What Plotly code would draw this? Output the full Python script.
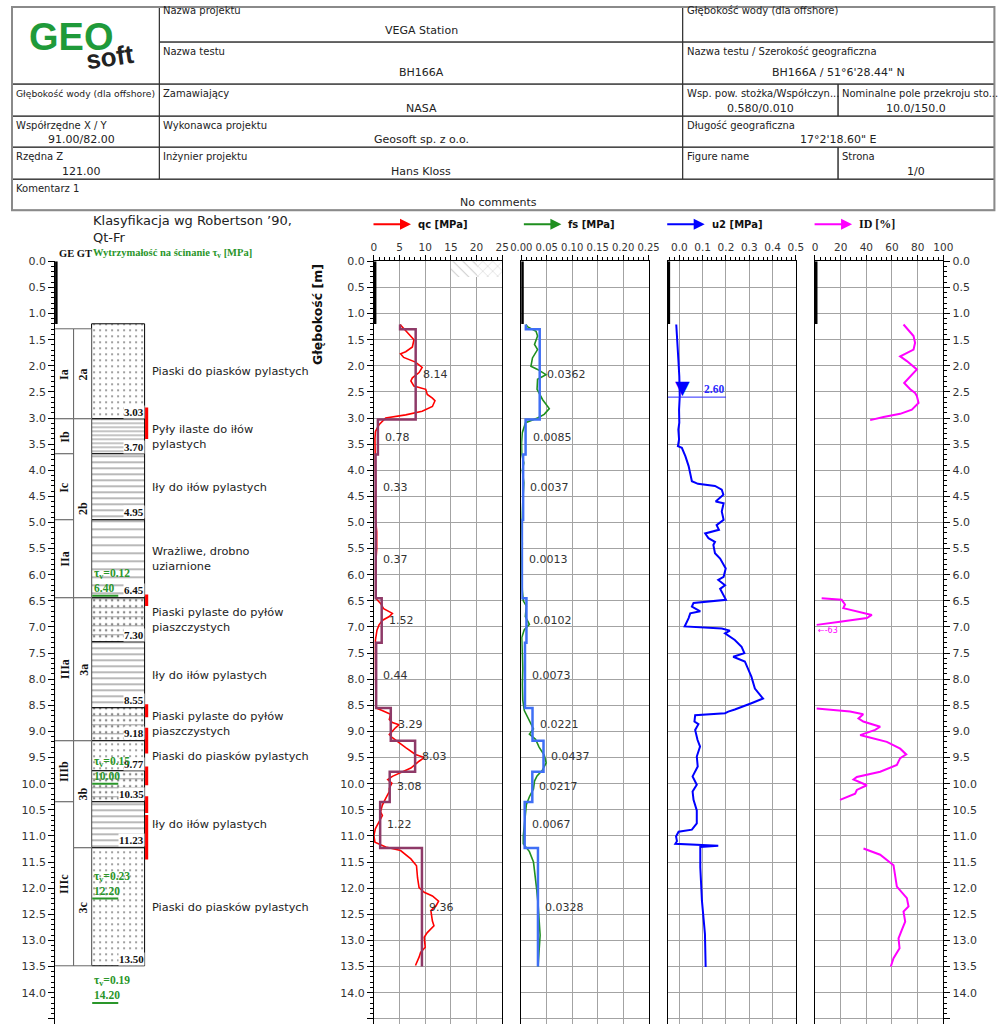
import plotly.graph_objects as go

W, H = 1001, 1024
# where the page lands in the snapshot (measured from earlier renders)
OX, OY, SX, SY = 13, 7, 0.9756, 0.993


def px(x):
    return (x - OX) / (SX * W)


def py(y):
    return 1 - (y - OY) / (SY * H)


# ---------------- layers (Robertson '90 classification) ----------------
layer_top = [1.20, 3.03, 3.70, 4.95, 6.45, 7.30, 8.55, 9.18, 9.77, 10.35, 11.23]
layer_bottom = [3.03, 3.70, 4.95, 6.45, 7.30, 8.55, 9.18, 9.77, 10.35, 11.23, 13.50]
layer_soil = ["sand", "silt", "clay", "sensitive", "sandsilt", "clay",
              "sandsilt", "sand", "sandsilt", "clay", "sand"]
layer_desc = [
    "Piaski do piasków pylastych",
    "Pyły ilaste do iłów<br>pylastych",
    "Iły do iłów pylastych",
    "Wrażliwe, drobno<br>uziarnione",
    "Piaski pylaste do pyłów<br>piaszczystych",
    "Iły do iłów pylastych",
    "Piaski pylaste do pyłów<br>piaszczystych",
    "Piaski do piasków pylastych",
    "",
    "Iły do iłów pylastych",
    "Piaski do piasków pylastych",
]
qc_avg = [8.14, 0.78, 0.33, 0.37, 1.52, 0.44, 3.29, 8.03, 3.08, 1.22, 9.36]
fs_avg = [0.0362, 0.0085, 0.0037, 0.0013, 0.0102, 0.0073, 0.0221, 0.0437, 0.0217, 0.0067, 0.0328]
step_start = 1.30
predrill = 1.20
water_level = 2.60

ge_names = ["Ia", "Ib", "Ic", "IIa", "IIIa", "IIIb", "IIIc"]
ge_top = [1.30, 3.03, 3.70, 4.95, 6.45, 9.18, 10.35]
ge_bottom = [3.03, 3.70, 4.95, 6.45, 9.18, 10.35, 13.50]
gt_names = ["2a", "2b", "3a", "3b", "3c"]
gt_top = [1.30, 3.03, 6.45, 9.18, 11.23]
gt_bottom = [3.03, 6.45, 9.18, 11.23, 13.50]

tau_v = [0.12, 0.15, 0.23, 0.19]
tau_depth = [6.40, 10.00, 12.20, 14.20]

flag_top = [2.80, 6.38, 8.48, 8.93, 9.67, 10.24, 10.60]
flag_bottom = [3.40, 6.60, 8.73, 9.42, 10.03, 10.56, 11.45]

# ---------------- CPT measurements ----------------
qc_depth = [1.21, 1.25, 1.30, 1.43, 1.50, 1.64, 1.73, 1.77, 1.84, 1.93, 2.03, 2.13, 2.23, 2.29,
            2.39, 2.45, 2.55, 2.62, 2.67, 2.78, 2.87, 2.94, 2.97, 3.00, 3.13, 3.26, 3.40, 3.60,
            3.80, 4.00, 4.30, 4.60, 4.90, 5.18, 5.30, 5.50, 5.80, 6.10, 6.40, 6.45, 6.55, 6.65,
            6.74, 6.80, 6.87, 6.96, 7.06, 7.25, 7.50, 7.80, 8.10, 8.40, 8.55, 8.60, 8.67, 8.77,
            8.83, 8.87, 8.93, 9.06, 9.12, 9.31, 9.44, 9.50, 9.57, 9.70, 9.80, 9.86, 9.92, 9.99,
            10.09, 10.15, 10.28, 10.41, 10.54, 10.61, 10.73, 10.86, 10.99, 11.12, 11.21, 11.28,
            11.44, 11.57, 11.80, 11.99, 12.08, 12.15, 12.25, 12.34, 12.43, 12.63, 12.72, 12.85,
            12.94, 13.13, 13.23, 13.32, 13.48]
qc = [5.1, 5.5, 6.0, 7.2, 7.8, 7.5, 6.2, 5.2, 5.8, 8.1, 9.4, 8.8, 7.5, 7.2,
      7.8, 10.1, 10.4, 11.4, 11.9, 11.4, 9.4, 6.2, 4.55, 2.3, 1.0, 0.3, 0.2, 0.25,
      0.3, 0.3, 0.35, 0.3, 0.3, 0.55, 0.6, 0.55, 0.35, 0.3, 0.3, 0.35, 1.3, 1.9,
      3.6, 3.0, 1.7, 1.0, 0.6, 0.3, 0.3, 0.35, 0.3, 0.35, 0.4, 1.6, 3.25, 3.0,
      3.6, 4.9, 4.2, 3.0, 3.6, 6.2, 8.1, 9.8, 8.8, 7.2, 4.9, 3.6, 2.7, 3.5,
      3.0, 3.0, 2.3, 1.65, 1.3, 1.65, 1.0, 0.3, 0.0, 0.2, 2.3, 5.2,
      7.2, 8.3, 8.5, 8.8, 9.8, 11.4, 12.6, 12.1, 11.1, 11.4, 11.7, 10.4,
      9.8, 10.0, 9.1, 8.8, 8.1]

fs_depth = [1.21, 1.25, 1.34, 1.43, 1.59, 1.69, 1.85, 2.01, 2.07, 2.17, 2.26, 2.45, 2.65, 2.82,
            2.93, 3.00, 3.09, 3.28, 3.48, 3.70, 3.86, 4.00, 4.24, 4.50, 4.80, 5.10, 5.40, 5.70,
            6.00, 6.30, 6.50, 6.60, 6.80, 6.95, 7.05, 7.20, 7.50, 7.80, 8.10, 8.40, 8.60, 8.80,
            8.95, 9.05, 9.15, 9.30, 9.45, 9.60, 9.75, 9.85, 9.95, 10.10, 10.25, 10.40, 10.60,
            10.80, 11.00, 11.15, 11.30, 11.50, 11.80, 12.00, 12.30, 12.60, 12.90, 13.20, 13.50]
fs = [0.009, 0.012, 0.029, 0.032, 0.026, 0.032, 0.022, 0.019, 0.032, 0.0486, 0.032, 0.031, 0.042,
      0.055, 0.045, 0.032, 0.0085, 0.002, 0.0005, 0.001, 0.005, 0.002, 0.005, 0.003, 0.002, 0.001,
      0.002, 0.001, 0.001, 0.002, 0.004, 0.010, 0.008, 0.016, 0.006, 0.001, 0.002, 0.003, 0.002,
      0.003, 0.006, 0.016, 0.024, 0.016, 0.028, 0.035, 0.045, 0.049, 0.041, 0.031, 0.026, 0.024,
      0.016, 0.010, 0.008, 0.006, 0.004, 0.004, 0.016, 0.024, 0.028, 0.030, 0.033, 0.035, 0.037,
      0.035, 0.033]

u2_depth = [1.21, 1.56, 1.88, 2.20, 2.58, 2.84, 3.09, 3.22, 3.41, 3.54, 3.57, 3.73, 3.92, 4.21,
            4.26, 4.30, 4.37, 4.47, 4.60, 4.63, 4.79, 4.95, 5.05, 5.14, 5.21, 5.30, 5.37, 5.43,
            5.59, 5.69, 5.88, 6.04, 6.10, 6.20, 6.27, 6.48, 6.54, 6.61, 6.70, 6.74, 6.83, 6.99,
            7.03, 7.07, 7.12, 7.25, 7.38, 7.50, 7.57, 7.66, 7.95, 8.18, 8.37, 8.46, 8.54, 8.58,
            8.62, 8.65, 8.69, 8.81, 8.86, 8.97, 9.16, 9.29, 9.48, 9.67, 9.86, 10.02, 10.15, 10.31,
            10.51, 10.76, 10.88, 10.92, 11.01, 11.10, 11.15, 11.18, 11.19, 11.21, 11.60, 12.24,
            12.88, 13.51]
u2 = [-0.013, -0.007, -0.004, 0.0, 0.002, -0.001, 0.0, -0.004, -0.001, -0.006, 0.011, 0.026, 0.040,
      0.054, 0.080, 0.153, 0.182, 0.189, 0.156, 0.190, 0.182, 0.190, 0.160, 0.170, 0.111, 0.125,
      0.153, 0.146, 0.153, 0.175, 0.199, 0.190, 0.167, 0.196, 0.175, 0.200, 0.061, 0.054, 0.090,
      0.047, 0.040, 0.023, 0.182, 0.217, 0.196, 0.238, 0.267, 0.279, 0.231, 0.281, 0.309, 0.324,
      0.359, 0.309, 0.267, 0.238, 0.210, 0.196, 0.068, 0.065, 0.082, 0.068, 0.078, 0.089, 0.075,
      0.079, 0.057, 0.075, 0.057, 0.061, 0.075, 0.075, 0.054, -0.003, -0.014, -0.010, -0.017,
      0.089, 0.167, 0.090, 0.090, 0.097, 0.110, 0.113]

id_depth = [1.21, 1.43, 1.56, 1.69, 1.82, 1.91, 2.07, 2.20, 2.33, 2.45, 2.52, 2.58, 2.71, 2.84,
            2.92, 2.98, 3.04, None,
            6.45, 6.48, 6.57, 6.64, 6.77, 6.83, 6.90, 6.96, None,
            8.56, 8.62, 8.67, 8.75, 8.81, 8.91, 8.97, 9.07, 9.10, 9.20, 9.33, 9.44, 9.51, 9.64,
            9.77, 9.87, 9.92, 10.03, 10.12, 10.19, 10.31, None,
            11.24, 11.36, 11.56, 11.78, 11.97, 12.19, 12.35, 12.45, 12.64, 12.80, 12.96, 13.15,
            13.34, 13.50]
id_pct = [69.0, 76.8, 78.0, 76.8, 66.4, 71.6, 79.4, 74.2, 69.5, 74.2, 78.0, 79.4, 80.7, 75.5,
          66.4, 53.4, 43.0, None,
          5.2, 20.8, 23.4, 22.1, 44.3, 40.4, 19.5, 1.3, None,
          1.3, 27.3, 37.6, 33.9, 37.6, 50.8, 46.9, 35.2, 40.4, 56.0, 66.4, 71.1, 66.4, 63.8,
          50.8, 32.6, 30.0, 40.4, 32.6, 31.3, 19.5, None,
          37.8, 50.8, 61.2, 62.5, 63.8, 71.6, 72.9, 69.0, 70.3, 67.7, 65.1, 65.9,
          61.2, 59.1]

# ---------------- header table ----------------
header_cells = [
    (161, 683, 2, 43, "Nazwa projektu", "VEGA Station"),
    (683, 994, 2, 43, "Głębokość wody (dla offshore)", ""),
    (161, 683, 43, 85, "Nazwa testu", "BH166A"),
    (683, 994, 43, 85, "Nazwa testu / Szerokość geograficzna", "BH166A / 51°6'28.44\" N"),
    (5, 161, 85, 117, "Głębokość wody (dla offshore)", ""),
    (161, 683, 85, 117, "Zamawiający", "NASA"),
    (683, 838, 85, 117, "Wsp. pow. stożka/Współczyn...", "0.580/0.010"),
    (838, 994, 85, 117, "Nominalne pole przekroju sto...", "10.0/150.0"),
    (5, 161, 117, 148, "Współrzędne X / Y", "91.00/82.00"),
    (161, 683, 117, 148, "Wykonawca projektu", "Geosoft sp. z o.o."),
    (683, 994, 117, 148, "Długość geograficzna", "17°2'18.60\" E"),
    (5, 161, 148, 180, "Rzędna Z", "121.00"),
    (161, 683, 148, 180, "Inżynier projektu", "Hans Kloss"),
    (683, 838, 148, 180, "Figure name", ""),
    (838, 994, 148, 180, "Strona", "1/0"),
    (5, 994, 180, 211, "Komentarz 1", "No comments"),
]

pattern_shape = {"sand": ".", "silt": "-", "clay": "-", "sensitive": "-", "sandsilt": "."}
pattern_size = {"sand": 6, "silt": 4, "clay": 6, "sensitive": 8, "sandsilt": 6}
pattern_solid = {"sand": 0.1, "silt": 0.25, "clay": 0.2, "sensitive": 0.15, "sandsilt": 0.14}

SANS = "DejaVu Sans"
SERIF = "Liberation Serif"
GREEN = "#2a962a"
GRID = "#a3a3a3"

fig = go.Figure()
ann = []

# ---- lithology column
n = len(layer_top)
thick = [b - t for t, b in zip(layer_top, layer_bottom)]
fig.add_trace(go.Bar(
    x=[63.5] * n, y=thick, base=layer_top, width=53,
    marker=dict(color="#111", line=dict(color="black", width=1),
                pattern=dict(shape=[pattern_shape[s] for s in layer_soil],
                             size=[pattern_size[s] for s in layer_soil],
                             solidity=[pattern_solid[s] for s in layer_soil],
                             fgcolor="#111", bgcolor="white")),
    xaxis="x", yaxis="y", hoverinfo="skip", showlegend=False))
mix = [i for i, s in enumerate(layer_soil) if s == "sandsilt"]
fig.add_trace(go.Bar(
    x=[63.5] * len(mix), y=[thick[i] for i in mix], base=[layer_top[i] for i in mix], width=53,
    marker=dict(color="rgba(0,0,0,0)", line=dict(width=0),
                pattern=dict(shape="-", size=9, solidity=0.12, fgcolor="#444",
                             bgcolor="rgba(0,0,0,0)")),
    xaxis="x", yaxis="y", hoverinfo="skip", showlegend=False))

for names, tops, bots, xc, wd in [(ge_names, ge_top, ge_bottom, 9.5, 19),
                                  (gt_names, gt_top, gt_bottom, 28, 18)]:
    fig.add_trace(go.Bar(
        x=[xc] * len(names), y=[b - t for t, b in zip(tops, bots)], base=tops, width=wd,
        marker=dict(color="white", line=dict(color="#666", width=1)),
        xaxis="x", yaxis="y", hoverinfo="skip", showlegend=False))
    for nm, t, b in zip(names, tops, bots):
        ann.append(dict(x=xc, y=(t + b) / 2, xref="x", yref="y", text=f"<b>{nm}</b>",
                        textangle=-90, showarrow=False, xanchor="center", yanchor="middle",
                        font=dict(family=SERIF, size=12, color="#111")))

fx, fy = [], []
for t, b in zip(flag_top, flag_bottom):
    fx += [91.5, 91.5, None]
    fy += [t, b, None]
fig.add_trace(go.Scatter(x=fx, y=fy, mode="lines", line=dict(color="red", width=3.5),
                         xaxis="x", yaxis="y", hoverinfo="skip", showlegend=False))

# predrilled section (thick black line on each panel edge)
for xa, x0 in [("x", 0), ("x2", 0), ("x3", 0), ("x4", -0.05), ("x5", 0)]:
    fig.add_trace(go.Scatter(x=[x0, x0], y=[0, predrill], mode="lines",
                             line=dict(color="black", width=5),
                             xaxis=xa, yaxis=xa.replace("x", "y"), hoverinfo="skip",
                             showlegend=False))

# ---- qc panel
fig.add_trace(go.Bar(x=[17.5, 22.5], y=[0.3, 0.3], base=[0, 0], width=5,
                     marker=dict(color="#9a9a9a", line=dict(width=0),
                                 pattern=dict(shape=["\\", "x"], size=7, solidity=0.15,
                                              fgcolor="#9a9a9a", bgcolor="white")),
                     xaxis="x2", yaxis="y2", hoverinfo="skip", showlegend=False))


def step_line(vals, first):
    xs, ys = [first, first], [qc_depth[0], step_start]
    for i, v in enumerate(vals):
        top = step_start if i == 0 else layer_top[i]
        xs += [v, v]
        ys += [top, layer_bottom[i]]
    return xs, ys


fig.add_trace(go.Scatter(x=qc, y=qc_depth, mode="lines", line=dict(color="#ff0000", width=1.6),
                         xaxis="x2", yaxis="y2", showlegend=False))
sx, sy = step_line(qc_avg, qc[0])
fig.add_trace(go.Scatter(x=sx, y=sy, mode="lines", line=dict(color="#8e3a68", width=2.5),
                         xaxis="x2", yaxis="y2", showlegend=False))

# ---- fs panel
fig.add_trace(go.Scatter(x=fs, y=fs_depth, mode="lines", line=dict(color="#1f8f1f", width=1.6),
                         xaxis="x3", yaxis="y3", showlegend=False))
sx, sy = step_line(fs_avg, fs[0])
fig.add_trace(go.Scatter(x=sx, y=sy, mode="lines", line=dict(color="#3f6ff5", width=2.5),
                         xaxis="x3", yaxis="y3", showlegend=False))

# ---- u2 panel
fig.add_trace(go.Scatter(x=u2, y=u2_depth, mode="lines", line=dict(color="#0000ff", width=2),
                         xaxis="x4", yaxis="y4", showlegend=False))

# ---- ID panel
fig.add_trace(go.Scatter(x=id_pct, y=id_depth, mode="lines", line=dict(color="#ff00ff", width=2),
                         connectgaps=False, xaxis="x5", yaxis="y5", showlegend=False))

# ---------------- annotations ----------------
for i in range(n):
    top = step_start if i == 0 else layer_top[i]
    mid = (top + layer_bottom[i]) / 2
    ann.append(dict(x=qc_avg[i], y=mid, xref="x2", yref="y2", text=f"{qc_avg[i]:.2f}",
                    xanchor="left", yanchor="middle", xshift=5, showarrow=False,
                    font=dict(family=SANS, size=11, color="#333")))
    ann.append(dict(x=fs_avg[i], y=mid, xref="x3", yref="y3", text=f"{fs_avg[i]:.4f}",
                    xanchor="left", yanchor="middle", xshift=5, showarrow=False,
                    font=dict(family=SANS, size=11, color="#333")))
    if layer_desc[i]:
        ann.append(dict(x=px(152), y=(layer_top[i] + layer_bottom[i]) / 2, xref="paper", yref="y",
                        text=layer_desc[i], xanchor="left", yanchor="middle", align="left",
                        showarrow=False, font=dict(family=SANS, size=11.3, color="#222")))
    ann.append(dict(x=89.5, y=layer_bottom[i], xref="x", yref="y",
                    text=f"<b>{layer_bottom[i]:.2f}</b>", xanchor="right", yanchor="bottom",
                    yshift=1, showarrow=False, borderpad=0, bgcolor="white",
                    font=dict(family=SERIF, size=11, color="#111")))

for t, d in zip(tau_v, tau_depth):
    ann.append(dict(x=37, y=d, xref="x", yref="y",
                    text="<b>τ<sub>v</sub>=%.2f<br>%.2f</b>" % (t, d),
                    xanchor="left", yanchor="bottom", align="left", showarrow=False,
                    font=dict(family=SERIF, size=11.5, color=GREEN)))

# water level
ann.append(dict(x=0.012, y=water_level, xref="x4", yref="y4", text="▼", xanchor="center",
                yanchor="bottom", yshift=-3, showarrow=False,
                font=dict(family=SANS, size=19, color="#0000ff")))
ann.append(dict(x=0.2, y=water_level, xref="x4", yref="y4", text=f"<b>{water_level:.2f}</b>",
                xanchor="right", yanchor="bottom", showarrow=False,
                font=dict(family=SERIF, size=11.5, color="#2a2aff")))
ann.append(dict(x=0, y=7.07, xref="x5", yref="y5", text="←-63", xanchor="left",
                yanchor="middle", xshift=1, showarrow=False,
                font=dict(family=SANS, size=8, color="#ff00ff")))

# panel legends (arrow + label)
for head, color, label, fam in [(412, "#ff0000", "qc [MPa]", SANS), (562, "#1f8f1f", "fs [MPa]", SANS),
                                (705, "#0000ff", "u2 [MPa]", SANS), (852, "#ff00ff", "ID [%]", SERIF)]:
    ann.append(dict(x=px(head), y=py(225), xref="paper", yref="paper", text="", showarrow=True,
                    ax=-39, ay=0, axref="pixel", ayref="pixel", arrowhead=2, arrowsize=1.1,
                    arrowwidth=2, arrowcolor=color, standoff=0))
    ann.append(dict(x=px(head + 5), y=py(225), xref="paper", yref="paper", text=f"<b>{label}</b>",
                    xanchor="left", yanchor="middle", showarrow=False,
                    font=dict(family=fam, size=10 if fam == SANS else 12, color="#111")))

ann.append(dict(x=px(93), y=py(212), xref="paper", yref="paper",
                text="Klasyfikacja wg Robertson ’90,<br>Qt-Fr", xanchor="left", yanchor="top",
                align="left", showarrow=False, font=dict(family=SANS, size=13, color="#222")))
ann.append(dict(x=px(59), y=py(254), xref="paper", yref="paper", text="<b>GE GT</b>",
                xanchor="left", yanchor="middle", showarrow=False,
                font=dict(family=SERIF, size=10.5, color="#111")))
ann.append(dict(x=px(93), y=py(254), xref="paper", yref="paper",
                text="<b>Wytrzymałość na ścinanie τ<sub>v</sub> [MPa]</b>",
                xanchor="left", yanchor="middle", showarrow=False,
                font=dict(family=SERIF, size=10.5, color=GREEN)))
ann.append(dict(x=px(319), y=py(315), xref="paper", yref="paper", text="<b>Głębokość [m]</b>",
                textangle=-90, xanchor="center", yanchor="middle", showarrow=False,
                font=dict(family=SANS, size=12.5, color="#111")))

# header table texts
edge_l, edge_t = OX + 1, OY + 1
for x0, x1, y0, y1, label, value in header_cells:
    lx = max(x0, edge_l) + 2
    tight = x0 < edge_l and len(label) * 6 > (x1 - lx)
    ann.append(dict(x=px(lx), y=py(y0 + 2), xref="paper", yref="paper", text=label,
                    xanchor="left", yanchor="top", showarrow=False,
                    font=dict(family=SANS, size=9.2 if tight else 10, color="#222")))
    if value:
        vy = y1 - 12 if (y1 - y0) > 36 else y1 - 7.5
        ann.append(dict(x=px((x0 + x1) / 2), y=py(vy), xref="paper", yref="paper", text=value,
                        xanchor="center", yanchor="middle", showarrow=False,
                        font=dict(family=SANS, size=11, color="#222")))
# logo
ann.append(dict(x=px(73), y=py(38), xref="paper", yref="paper", text="<b>GEO</b>",
                xanchor="center", yanchor="middle", showarrow=False,
                font=dict(family="Liberation Sans", size=38, color="#1f9a3a")))
ann.append(dict(x=px(112), y=py(58), xref="paper", yref="paper", text="<b>soft</b>",
                xanchor="center", yanchor="middle", showarrow=False, textangle=-8,
                font=dict(family="Liberation Sans", size=26, color="#222")))

# ---------------- shapes ----------------
shapes = []
for x0, x1, y0, y1, _, _ in header_cells + [(5, 161, 2, 85, "", "")]:
    shapes.append(dict(type="rect", xref="paper", yref="paper", x0=px(max(x0, edge_l)), x1=px(x1),
                       y0=py(y1), y1=py(max(y0, edge_t)), line=dict(color="#333", width=1)))
shapes.append(dict(type="rect", xref="paper", yref="paper", x0=px(edge_l), x1=px(994),
                   y0=py(211), y1=py(edge_t), line=dict(color="#8a8a8a", width=2)))
for d in tau_depth:
    shapes.append(dict(type="line", xref="x", yref="y", x0=37, x1=63, y0=d, y1=d,
                       line=dict(color=GREEN, width=2)))
shapes.append(dict(type="line", xref="x4", yref="y4", x0=-0.05, x1=0.2, y0=water_level,
                   y1=water_level, line=dict(color="#2a2aff", width=1)))

# ---------------- axes ----------------
top_y = py(262)
depth_range = [14.6, 0]


def xpanel(x0, x1, rng, dtick, minor, fmt, anchor, fsize=10.5):
    return dict(domain=[px(x0), px(x1)], range=rng, side="top", anchor=anchor, tick0=0, dtick=dtick,
                tickformat=fmt, showgrid=True, gridcolor=GRID, gridwidth=1, zeroline=False,
                showline=True, linecolor="black", linewidth=1, ticks="outside", ticklen=5,
                tickcolor="black", tickangle=0, fixedrange=True,
                tickfont=dict(family=SANS, size=fsize, color="#333"),
                minor=dict(tick0=0, dtick=minor, ticks="outside", ticklen=3, tickcolor="black",
                           showgrid=False))


def ypanel(anchor, labels, side="left", grid=True):
    d = dict(domain=[0, top_y], range=depth_range, anchor=anchor, side=side, zeroline=False,
             showline=True, linecolor="black", linewidth=1, mirror=grid, showgrid=grid,
             gridcolor=GRID, gridwidth=1, tick0=0, dtick=0.5, tickformat=".1f",
             tickfont=dict(family=SANS, size=11, color="#333"), showticklabels=labels,
             fixedrange=True)
    if labels:
        d.update(ticks="outside", ticklen=6, tickcolor="black",
                 minor=dict(tick0=0, dtick=0.1, ticks="outside", ticklen=3, tickcolor="black",
                            showgrid=False))
    else:
        d.update(ticks="")
    return d


fig.update_layout(
    width=W, height=H, margin=dict(l=0, r=0, t=0, b=0),
    paper_bgcolor="white", plot_bgcolor="white", showlegend=False, barmode="overlay",
    bargap=0,
    xaxis=dict(domain=[px(57), px(150)], range=[0, 93], anchor="y", visible=False, fixedrange=True),
    yaxis=ypanel("x", True, grid=False),
    xaxis2=xpanel(375, 503, [0, 25], 5, 1, "d", "y2"),
    yaxis2=ypanel("x2", True),
    xaxis3=xpanel(522, 649, [0, 0.25], 0.05, 0.01, ".2f", "y3", fsize=10),
    yaxis3=ypanel("x3", False),
    xaxis4=xpanel(668, 796, [-0.05, 0.5], 0.1, 0.02, ".1f", "y4"),
    yaxis4=ypanel("x4", False),
    xaxis5=xpanel(815, 943, [0, 100], 20, 4, "d", "y5"),
    yaxis5=ypanel("x5", True, side="right"),
    annotations=ann, shapes=shapes,
)

fig.write_html("out.html", config={"displayModeBar": False},
               post_script="document.body.style.margin='0';")
